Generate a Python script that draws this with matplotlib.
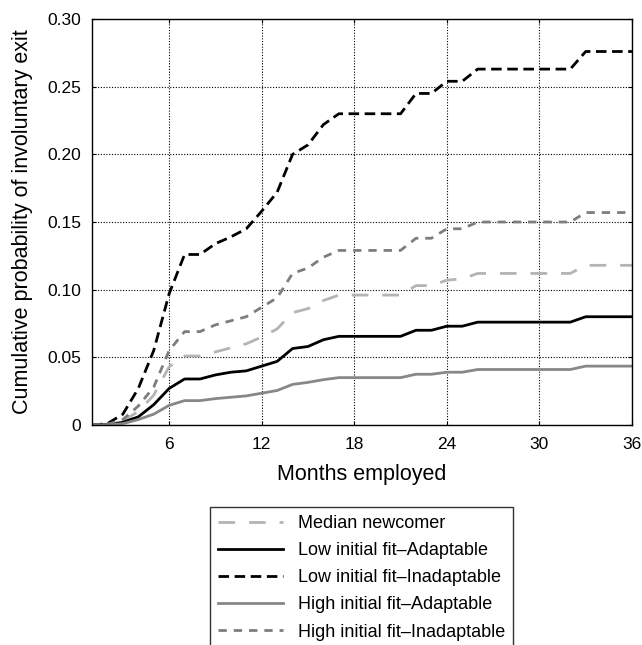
import matplotlib.pyplot as plt

plt.rcParams['font.family'] = ['Liberation Sans', 'DejaVu Sans']

#####
# Data, months 1..36
months = list(range(1, 37))

median = [0, 0.0003, 0.003, 0.010, 0.022, 0.043, 0.051, 0.051, 0.054, 0.057,
          0.060, 0.065, 0.071, 0.083, 0.086, 0.092, 0.096, 0.096, 0.096, 0.096,
          0.096, 0.103, 0.103, 0.107, 0.108, 0.112, 0.112, 0.112, 0.112, 0.112,
          0.112, 0.112, 0.118, 0.118, 0.118, 0.118]
lowAdapt = [0, 0.0003, 0.002, 0.006, 0.015, 0.027, 0.034, 0.034, 0.037, 0.039,
            0.040, 0.0435, 0.047, 0.0565, 0.058, 0.063, 0.0655, 0.0655, 0.0655, 0.0655,
            0.0655, 0.070, 0.070, 0.073, 0.073, 0.076, 0.076, 0.076, 0.076, 0.076,
            0.076, 0.076, 0.080, 0.080, 0.080, 0.080]
lowInadapt = [0, 0.001, 0.008, 0.027, 0.055, 0.097, 0.126, 0.126, 0.134, 0.139,
              0.145, 0.158, 0.172, 0.200, 0.207, 0.222, 0.230, 0.230, 0.230, 0.230,
              0.230, 0.245, 0.245, 0.254, 0.254, 0.263, 0.263, 0.263, 0.263, 0.263,
              0.263, 0.263, 0.276, 0.276, 0.276, 0.276]
highAdapt = [0, 0.0002, 0.001, 0.004, 0.008, 0.0145, 0.018, 0.018, 0.0195, 0.0205,
             0.0215, 0.0235, 0.0255, 0.030, 0.0315, 0.0335, 0.035, 0.035, 0.035, 0.035,
             0.035, 0.0375, 0.0375, 0.039, 0.039, 0.041, 0.041, 0.041, 0.041, 0.041,
             0.041, 0.041, 0.0435, 0.0435, 0.0435, 0.0435]
highInadapt = [0, 0.0005, 0.004, 0.014, 0.028, 0.055, 0.069, 0.069, 0.074, 0.077,
               0.080, 0.087, 0.094, 0.112, 0.116, 0.124, 0.129, 0.129, 0.129, 0.129,
               0.129, 0.138, 0.138, 0.145, 0.145, 0.150, 0.150, 0.150, 0.150, 0.150,
               0.150, 0.150, 0.157, 0.157, 0.157, 0.157]

labels = ['Median newcomer',
          'Low initial fit\u2013Adaptable',
          'Low initial fit\u2013Inadaptable',
          'High initial fit\u2013Adaptable',
          'High initial fit\u2013Inadaptable']

xticks = [6, 12, 18, 24, 30, 36]
yticks = [0, 0.05, 0.10, 0.15, 0.20, 0.25, 0.30]
ytickLabels = ['0', '0.05', '0.10', '0.15', '0.20', '0.25', '0.30']

#####
# Plot
fig = plt.figure(figsize=(6.42, 6.45), dpi=100)
ax = fig.add_axes([0.1433, 0.3411, 0.8411, 0.6294])

lw = 2.0
ax.plot(months, median, color='#b4b4b4', lw=lw, dashes=(6, 5), label=labels[0])
ax.plot(months, lowAdapt, color='black', lw=lw, label=labels[1])
ax.plot(months, lowInadapt, color='black', lw=lw, dashes=(3.8, 2.0), label=labels[2])
ax.plot(months, highAdapt, color='#878787', lw=lw, label=labels[3])
ax.plot(months, highInadapt, color='#7d7d7d', lw=lw, dashes=(3.0, 2.5), label=labels[4])

ax.set_xlim(1, 36)
ax.set_ylim(0, 0.30)
ax.set_xticks(xticks)
ax.set_yticks(yticks)
ax.set_yticklabels(ytickLabels)
ax.tick_params(direction='in', length=3, labelsize=12.5, top=True, right=True)
ax.tick_params(axis='x', pad=9)
ax.tick_params(axis='y', pad=8)
ax.grid(True, color='black', linestyle=(0, (1, 1.5)), linewidth=0.8)
for s in ax.spines.values():
    s.set_linewidth(1.0)

ax.set_xlabel('Months employed', fontsize=15.5, labelpad=8)
ax.set_ylabel('Cumulative probability of involuntary exit', fontsize=15.5, labelpad=10)

# legend sits under the axes; its lower edge runs off the figure as in the original
leg = fig.legend(loc='upper left', bbox_to_anchor=(210 / 642, 1 - 507 / 645),
                 fontsize=13, frameon=True, fancybox=False, handlelength=3.6,
                 handletextpad=0.8, labelspacing=0.56, borderaxespad=0,
                 borderpad=0.45)
leg.get_frame().set_edgecolor('black')
leg.get_frame().set_linewidth(1.0)

fig.savefig('out.png', dpi=100)
